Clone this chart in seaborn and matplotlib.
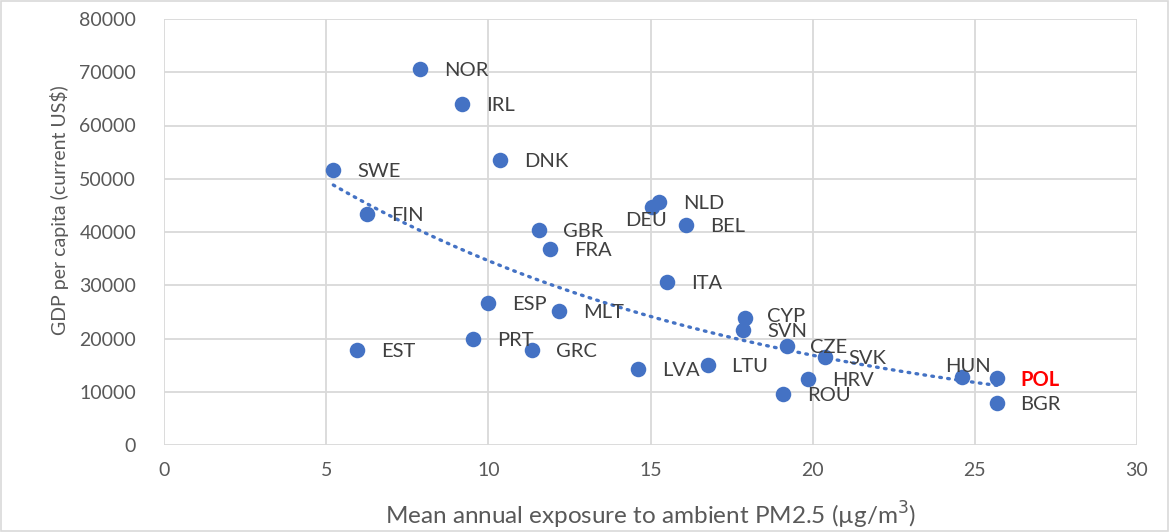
import numpy as np
import pandas as pd
import matplotlib
matplotlib.use("Agg")
import matplotlib.pyplot as plt
import seaborn as sns

countries = ["NOR", "IRL", "DNK", "SWE", "FIN", "GBR", "FRA", "DEU", "NLD", "BEL",
             "ITA", "ESP", "MLT", "PRT", "EST", "GRC", "LVA", "LTU", "CYP", "SVN",
             "CZE", "SVK", "HRV", "ROU", "HUN", "POL", "BGR"]
pm25 = [7.90, 9.20, 10.37, 5.22, 6.27, 11.57, 11.91, 15.04, 15.27, 16.10,
        15.52, 10.00, 12.19, 9.54, 5.96, 11.36, 14.63, 16.76, 17.91, 17.86,
        19.20, 20.38, 19.87, 19.10, 24.60, 25.68, 25.68]
gdp = [70600, 64050, 53500, 51650, 43400, 40400, 36800, 44750, 45700, 41300,
       30600, 26650, 25150, 19900, 17800, 17900, 14250, 15000, 23800, 21600,
       18600, 16500, 12350, 9600, 12850, 12500, 7800]
xticks = [0, 5, 10, 15, 20, 25, 30]
yticks = [0, 10000, 20000, 30000, 40000, 50000, 60000, 70000, 80000]

# label offsets (points) relative to each marker
label_offsets = {
    "DEU": (-19, -10), "HUN": (-12, 7), "CYP": (16, 1), "SVN": (17, -1),
}
default_offset = (17, -1)

df = pd.DataFrame({"country": countries, "pm25": pm25, "gdp": gdp})

sns.set_style("white")
plt.rcParams['font.family'] = ['Lato', 'DejaVu Sans']

fig = plt.figure(figsize=(11.69, 5.32), dpi=100)
ax = fig.add_axes([164/1169, 1-445/532, (1137-164)/1169, (445-19)/532])

blue = "#4472C4"
sns.scatterplot(data=df, x="pm25", y="gdp", ax=ax, s=125, color=blue,
                edgecolor=blue, linewidth=0, zorder=3)

# exponential trendline (least squares on ln y)
b, a = np.polyfit(df["pm25"], np.log(df["gdp"]), 1)
xs = np.linspace(min(pm25), max(pm25), 200)
ax.plot(xs, np.exp(a) * np.exp(b * xs), color=blue, lw=2.4,
        linestyle=(0, (0.5, 1.9)), dash_capstyle="round", zorder=2)

for c, x, y in zip(countries, pm25, gdp):
    dx, dy = label_offsets.get(c, default_offset)
    if c == "POL":
        ax.annotate(c, (x, y), xytext=(dx, dy), textcoords="offset points",
                    ha="left", va="center", fontsize=14.5, color="red",
                    fontweight="bold", zorder=4)
    else:
        ax.annotate(c, (x, y), xytext=(dx, dy), textcoords="offset points",
                    ha="left", va="center", fontsize=14.5, color="#404040", zorder=4)

ax.set_xlim(0, 30)
ax.set_ylim(0, 80000)
ax.set_xticks(xticks)
ax.set_yticks(yticks)
ax.set_xticklabels([str(t) for t in xticks])
ax.set_yticklabels([str(t) for t in yticks])
ax.tick_params(axis="both", length=0, labelsize=14, colors="#595959")
ax.tick_params(axis="y", pad=20)
ax.tick_params(axis="x", pad=12)
ax.grid(True, color="#D9D9D9", lw=1.3, zorder=0)
ax.set_axisbelow(True)
for sp in ax.spines.values():
    sp.set_visible(False)

ax.set_xlabel("Mean annual exposure to ambient PM2.5 (µg/m$^3$)", fontsize=17.5,
              color="#595959", va="center")
ax.set_ylabel("GDP per capita (current US$)", fontsize=14, color="#595959",
              va="center")
ax.xaxis.set_label_coords(0.5, -0.165)
ax.yaxis.set_label_coords(-0.107, 0.552)

fig.patches.append(plt.Rectangle((0.001, 0.001), 0.998, 0.997, transform=fig.transFigure,
                                 fill=False, edgecolor="#D9D9D9", lw=1.2))

fig.savefig("out.png", dpi=100)
